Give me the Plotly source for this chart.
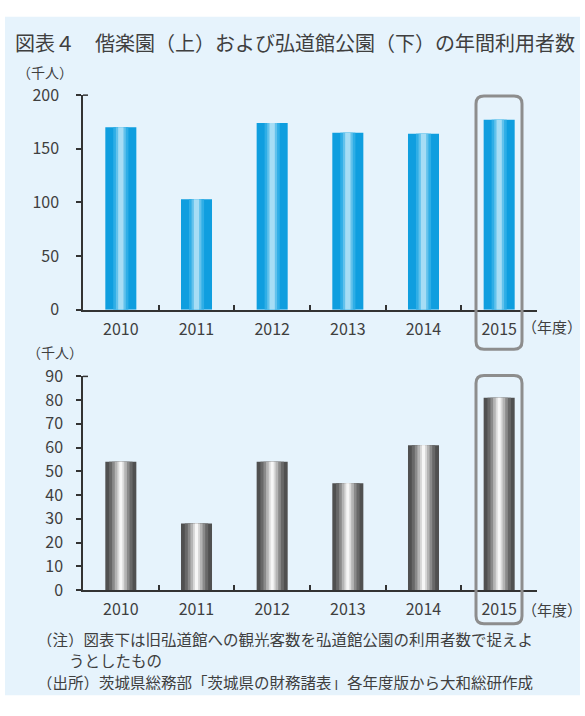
import plotly.graph_objects as go

W, H = 585, 716

years = ["2010", "2011", "2012", "2013", "2014", "2015"]
kairakuen = [170, 103, 174, 165, 164, 177]      # 千人 (top)
kodokan = [54, 28, 54, 45, 61, 81]              # 千人 (bottom)

top_ticks = [0, 50, 100, 150, 200]
bot_ticks = [0, 10, 20, 30, 40, 50, 60, 70, 80, 90]

title = "図表４　偕楽園（上）および弘道館公園（下）の年間利用者数"
unit_label = "（千人）"
year_label = "（年度）"
note1 = "（注）図表下は旧弘道館への観光客数を弘道館公園の利用者数で捉えよ"
note2 = "うとしたもの"
note3 = "（出所）茨城県総務部「茨城県の財務諸表」各年度版から大和総研作成"

FONT = "Noto Sans CJK JP, Noto Sans, sans-serif"
TXT = "#3f3f3f"
AX = "#333333"


def px(x):
    return x / W


def py(y):
    return 1 - y / H


fig = go.Figure()

blue_layers = [(0.41, "#0F9EDF"), (0.20, "#2FAEE6"), (0.13, "#62C2EC"), (0.07, "#A6DDF5")]
gray_layers = [(0.41, "#505050"), (0.31, "#686868"), (0.23, "#8a8a8a"),
               (0.16, "#b4b4b4"), (0.09, "#dadada"), (0.04, "#f6f6f6")]

for w, c in blue_layers:
    fig.add_trace(go.Bar(x=years, y=kairakuen, width=w, marker=dict(color=c, line=dict(width=0)),
                         xaxis="x", yaxis="y", showlegend=False, hoverinfo="skip"))
for w, c in gray_layers:
    fig.add_trace(go.Bar(x=years, y=kodokan, width=w, marker=dict(color=c, line=dict(width=0)),
                         xaxis="x2", yaxis="y2", showlegend=False, hoverinfo="skip"))

xdom = [px(83), px(537)]
xcommon = dict(type="category", showline=True, linecolor=AX, linewidth=1.5, ticks="inside",
               tickson="boundaries", ticklen=5, tickwidth=1.5, tickcolor=AX, showgrid=False,
               tickfont=dict(family=FONT, size=16, color=TXT), ticklabelstandoff=4,
               domain=xdom, zeroline=False)
ycommon = dict(showline=True, linecolor=AX, linewidth=1.5, ticks="outside", ticklen=5,
               tickwidth=1.5, tickcolor=AX, showgrid=False, zeroline=False,
               tickfont=dict(family=FONT, size=16, color=TXT))

shapes = [
    dict(type="rect", xref="paper", yref="paper", x0=px(5), x1=px(580), y0=py(706), y1=py(4),
         fillcolor="#E6F3FC", line=dict(width=0), layer="below"),
]


def rbox(x0, x1, y0, y1, r=8):
    # rounded rectangle in pixel coords -> paper path
    pts = (f"M {px(x0 + r)},{py(y0)} L {px(x1 - r)},{py(y0)} Q {px(x1)},{py(y0)} {px(x1)},{py(y0 + r)} "
           f"L {px(x1)},{py(y1 - r)} Q {px(x1)},{py(y1)} {px(x1 - r)},{py(y1)} "
           f"L {px(x0 + r)},{py(y1)} Q {px(x0)},{py(y1)} {px(x0)},{py(y1 - r)} "
           f"L {px(x0)},{py(y0 + r)} Q {px(x0)},{py(y0)} {px(x0 + r)},{py(y0)} Z")
    return dict(type="path", xref="paper", yref="paper", path=pts,
                line=dict(color="#8d8d8d", width=3), layer="above")


shapes.append(rbox(476, 522, 86, 348))
shapes.append(rbox(476, 522, 375, 632))
# small top caps on the y axes
shapes.append(dict(type="line", xref="paper", yref="paper", x0=px(83), x1=px(88),
                   y0=py(85), y1=py(85), line=dict(color=AX, width=1.5)))
shapes.append(dict(type="line", xref="paper", yref="paper", x0=px(83), x1=px(88),
                   y0=py(376), y1=py(376), line=dict(color=AX, width=1.5)))


def label(text, x, y, size, xanchor="left", height=None):
    d = dict(text=text, x=px(x), y=py(y), xref="paper", yref="paper", xanchor=xanchor,
             yanchor="middle", showarrow=False, borderpad=0,
             font=dict(family=FONT, size=size, color=TXT))
    if height:
        d["height"] = height
    return d


annotations = [
    label(title, 14, 31, 20),
    label(unit_label, 45, 61, 14, "center"),
    label(unit_label, 55, 351, 14, "center", height=16),
    label(year_label, 552, 324, 15, "center"),
    label(year_label, 552, 617, 15, "center"),
    label(note1, 36, 647, 15.5, height=17),
    label(note2, 68, 669, 15.5, height=17),
    label(note3, 36, 692, 15.5, height=17),
]

fig.update_layout(
    width=W, height=H, margin=dict(l=0, r=0, t=0, b=0),
    paper_bgcolor="white", plot_bgcolor="rgba(0,0,0,0)",
    barmode="overlay",
    xaxis=dict(**xcommon, anchor="y"),
    yaxis=dict(**ycommon, range=[0, 200], tickvals=top_ticks, domain=[py(307), py(85)],
               anchor="x", ticklabelstandoff=14),
    xaxis2=dict(**xcommon, anchor="y2"),
    yaxis2=dict(**ycommon, range=[0, 90], tickvals=bot_ticks, domain=[py(597), py(376)],
                anchor="x2", ticklabelstandoff=10),
    shapes=shapes, annotations=annotations,
    font=dict(family=FONT, color=TXT),
)

fig.write_html("out.html")
